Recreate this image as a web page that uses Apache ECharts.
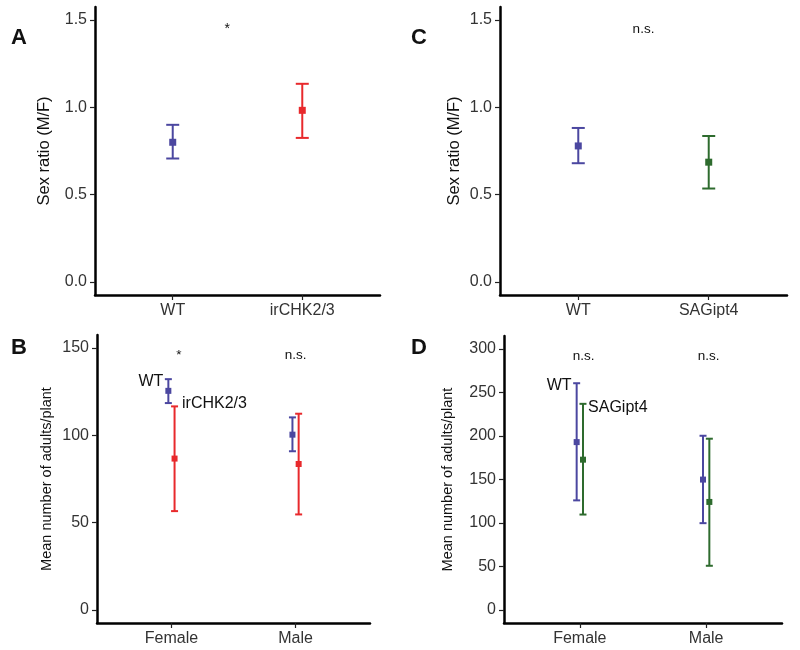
<!DOCTYPE html>
<html>
<head>
<meta charset="utf-8">
<script src="https://cdn.jsdelivr.net/npm/echarts@6/dist/echarts.min.js"></script>
<style>html,body{margin:0;padding:0;background:#fff}#c{width:800px;height:650px}</style>
</head>
<body>
<div id="c"></div>
<script>
// ---------- DATA ----------
// Panel A: sex ratio, WT vs irCHK2/3
const groupsA = ['WT', 'irCHK2/3'];
const meanA = [0.80, 0.983];
const lowA = [0.707, 0.825];
const highA = [0.90, 1.135];
// Panel C: sex ratio, WT vs SAGipt4
const groupsC = ['WT', 'SAGipt4'];
const meanC = [0.779, 0.686];
const lowC = [0.68, 0.535];
const highC = [0.882, 0.836];
// Panel B: mean adults/plant by sex
const sexes = ['Female', 'Male'];
const meanB_WT = [125.5, 100.4];
const lowB_WT = [118.5, 90.9];
const highB_WT = [132.2, 110.3];
const meanB_ir = [86.7, 83.6];
const lowB_ir = [56.6, 54.7];
const highB_ir = [116.6, 112.4];
// Panel D: mean adults/plant by sex
const meanD_WT = [193, 149.9];
const lowD_WT = [126, 99.8];
const highD_WT = [260.7, 200.3];
const meanD_sag = [172.8, 124.2];
const lowD_sag = [109.7, 50.8];
const highD_sag = [237, 196.9];
// Tick labels
const ticksRatio = [0, 0.5, 1.0, 1.5];
const ticksB = [0, 50, 100, 150];
const ticksD = [0, 50, 100, 150, 200, 250, 300];
// Annotations (x in category units, 1 = first group)
const annA = { x: [1.42], y: [1.45], text: ['*'] };
const annC = { x: [1.5], y: [1.45], text: ['n.s.'] };
const annB = { x: [1.06, 2.0], y: [146, 146], text: ['*', 'n.s.'] };
const annD = { x: [1.03, 2.02], y: [292, 292], text: ['n.s.', 'n.s.'] };
const lblB = { x: [0.935, 1.085], y: [131, 118], text: ['WT', 'irCHK2/3'] };
const lblD = { x: [0.935, 1.065], y: [258, 233], text: ['WT', 'SAGipt4'] };
const dodge = 0.025;

// ---------- STYLE ----------
const BLUE = '#4b47a0', RED = '#e8292c', GREEN = '#2e6b2e';
const FONT = '"Liberation Sans", Arial, sans-serif';

function xAxis(i, groups) {
  return {
    type: 'value', gridIndex: i, min: 0.4, max: 2.6,
    axisLine: { show: true, onZero: false, lineStyle: { color: '#000', width: 2.5 } },
    axisTick: { show: true, customValues: [1, 2], length: 5, lineStyle: { color: '#222', width: 1.2 } },
    axisLabel: { customValues: [1, 2], formatter: v => groups[Math.round(v) - 1], color: '#333', fontSize: 16, fontFamily: FONT, margin: 8 },
    splitLine: { show: false }
  };
}
function yAxis(i, min, max, ticks, fmt, name, gap, nameSize) {
  return {
    type: 'value', gridIndex: i, min: min, max: max,
    name: name, nameLocation: 'middle', nameGap: gap, nameRotate: 90,
    nameTextStyle: { color: '#111', fontSize: nameSize, fontFamily: FONT },
    axisLine: { show: true, onZero: false, lineStyle: { color: '#000', width: 2.5 } },
    axisTick: { show: true, customValues: ticks, length: 5, lineStyle: { color: '#222', width: 1.2 } },
    axisLabel: { customValues: ticks, formatter: fmt, color: '#333', fontSize: 16, fontFamily: FONT, margin: 8 },
    splitLine: { show: false }
  };
}
function errSeries(i, xs, lows, highs, color, cap) {
  return {
    type: 'custom', xAxisIndex: i, yAxisIndex: i,
    data: xs.map((x, k) => [x, lows[k], highs[k]]),
    renderItem: function (params, api) {
      const lo = api.coord([api.value(0), api.value(1)]);
      const hi = api.coord([api.value(0), api.value(2)]);
      const st = { stroke: color, lineWidth: 2 };
      return { type: 'group', children: [
        { type: 'line', shape: { x1: lo[0], y1: lo[1], x2: hi[0], y2: hi[1] }, style: st },
        { type: 'line', shape: { x1: lo[0] - cap, y1: lo[1], x2: lo[0] + cap, y2: lo[1] }, style: st },
        { type: 'line', shape: { x1: hi[0] - cap, y1: hi[1], x2: hi[0] + cap, y2: hi[1] }, style: st }
      ] };
    },
    z: 2
  };
}
function ptSeries(i, xs, means, color, size) {
  return {
    type: 'scatter', xAxisIndex: i, yAxisIndex: i,
    data: xs.map((x, k) => [x, means[k]]),
    symbol: 'rect', symbolSize: size, itemStyle: { color: color, opacity: 1 },
    z: 3, silent: true
  };
}
function textSeries(i, ann, align, size) {
  return {
    type: 'custom', xAxisIndex: i, yAxisIndex: i,
    data: ann.x.map((x, k) => [x, ann.y[k], k]),
    renderItem: function (params, api) {
      const p = api.coord([api.value(0), api.value(1)]);
      const a = Array.isArray(align) ? align[params.dataIndex] : align;
      return { type: 'text', x: p[0], y: p[1], style: {
        text: ann.text[params.dataIndex], textAlign: a, textVerticalAlign: 'middle',
        fill: '#111', font: size + 'px ' + FONT } };
    },
    z: 4, silent: true
  };
}
const fmtRatio = v => v.toFixed(1);
const fmtInt = v => String(Math.round(v));

const xsA = [1, 2];
const xsWT = [1 - dodge, 2 - dodge];
const xsOther = [1 + dodge, 2 + dodge];

const chart = echarts.init(document.getElementById('c'), null, { renderer: 'canvas' });
chart.setOption({
  animation: false,
  backgroundColor: '#fff',
  grid: [
    { left: 95, top: 7, width: 285, height: 288 },
    { left: 500, top: 7, width: 287, height: 288 },
    { left: 97, top: 335, width: 273, height: 288 },
    { left: 504, top: 336, width: 278, height: 287 }
  ],
  xAxis: [xAxis(0, groupsA), xAxis(1, groupsC), xAxis(2, sexes), xAxis(3, sexes)],
  yAxis: [
    yAxis(0, -0.075, 1.575, ticksRatio, fmtRatio, 'Sex ratio (M/F)', 42, 16.5),
    yAxis(1, -0.075, 1.575, ticksRatio, fmtRatio, 'Sex ratio (M/F)', 37, 16.5),
    yAxis(2, -7.5, 157.5, ticksB, fmtInt, 'Mean number of adults/plant', 43, 14.5),
    yAxis(3, -15, 315, ticksD, fmtInt, 'Mean number of adults/plant', 49, 14.5)
  ],
  series: [
    errSeries(0, [xsA[0]], [lowA[0]], [highA[0]], BLUE, 6.5),
    errSeries(0, [xsA[1]], [lowA[1]], [highA[1]], RED, 6.5),
    ptSeries(0, [xsA[0]], [meanA[0]], BLUE, 7),
    ptSeries(0, [xsA[1]], [meanA[1]], RED, 7),
    textSeries(0, annA, 'center', 14),

    errSeries(1, [xsA[0]], [lowC[0]], [highC[0]], BLUE, 6.5),
    errSeries(1, [xsA[1]], [lowC[1]], [highC[1]], GREEN, 6.5),
    ptSeries(1, [xsA[0]], [meanC[0]], BLUE, 7),
    ptSeries(1, [xsA[1]], [meanC[1]], GREEN, 7),
    textSeries(1, annC, 'center', 13.5),

    errSeries(2, xsWT, lowB_WT, highB_WT, BLUE, 3.5),
    errSeries(2, xsOther, lowB_ir, highB_ir, RED, 3.5),
    ptSeries(2, xsWT, meanB_WT, BLUE, 6),
    ptSeries(2, xsOther, meanB_ir, RED, 6),
    textSeries(2, annB, 'center', 13.5),
    textSeries(2, lblB, ['right', 'left'], 16),

    errSeries(3, xsWT, lowD_WT, highD_WT, BLUE, 3.5),
    errSeries(3, xsOther, lowD_sag, highD_sag, GREEN, 3.5),
    ptSeries(3, xsWT, meanD_WT, BLUE, 6),
    ptSeries(3, xsOther, meanD_sag, GREEN, 6),
    textSeries(3, annD, 'center', 13.5),
    textSeries(3, lblD, ['right', 'left'], 16)
  ],
  graphic: [
    { type: 'text', left: 11, top: 27, style: { text: 'A', font: 'bold 22px ' + FONT, fill: '#111' } },
    { type: 'text', left: 411, top: 27, style: { text: 'C', font: 'bold 22px ' + FONT, fill: '#111' } },
    { type: 'text', left: 11, top: 337, style: { text: 'B', font: 'bold 22px ' + FONT, fill: '#111' } },
    { type: 'text', left: 411, top: 337, style: { text: 'D', font: 'bold 22px ' + FONT, fill: '#111' } }
  ]
});
</script>
</body>
</html>
